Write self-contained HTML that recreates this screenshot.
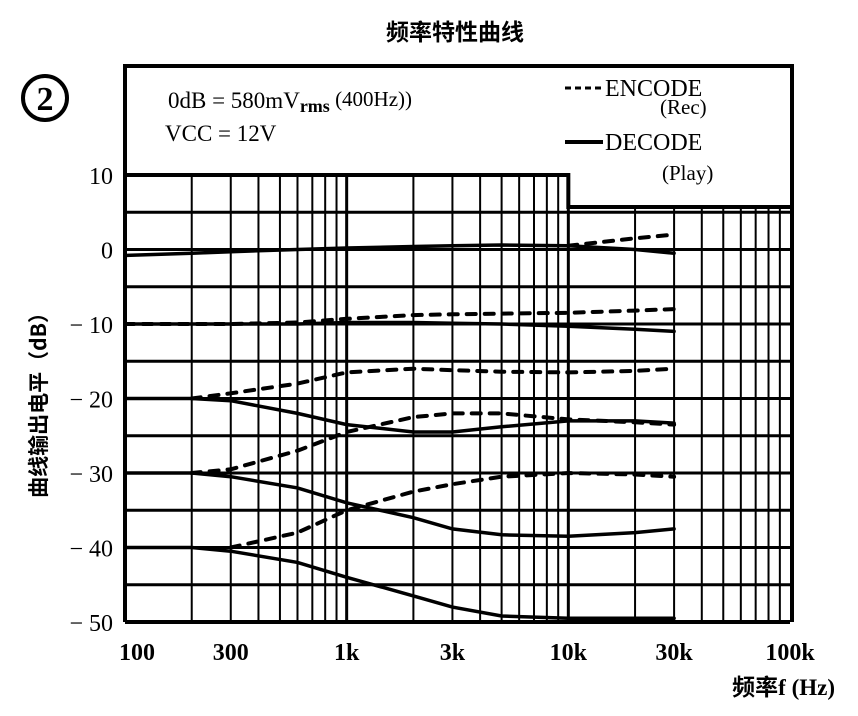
<!DOCTYPE html>
<html><head><meta charset="utf-8"><style>
html,body{margin:0;padding:0;background:#fff}
svg{display:block}
text{font-family:"Liberation Serif","Noto Serif CJK SC",serif;fill:#000}
.cjk{font-family:"Noto Sans CJK SC","WenQuanYi Zen Hei",sans-serif;font-weight:bold}
</style></head><body>
<svg id="chart" width="858" height="716" viewBox="0 0 858 716" xmlns="http://www.w3.org/2000/svg">
<text class="cjk" x="455" y="40" font-size="23" text-anchor="middle">频率特性曲线</text>
<g>
<circle cx="45" cy="98" r="22" fill="none" stroke="#000" stroke-width="4"/>
<text x="45" y="110" font-size="34" font-weight="bold" text-anchor="middle" font-family="Liberation Sans">2</text>
</g>
<g id="grid"></g>
<g id="frame"></g>
<g id="series"></g>
<g id="yticks"></g>
<g id="xticks"></g>
<text x="168" y="108" font-size="23">0dB = 580mV<tspan font-size="18" font-weight="bold" dy="4">rms</tspan><tspan dy="-6" font-size="21"> (400Hz))</tspan></text>
<text x="165" y="141" font-size="23">VCC = 12V</text>
<g>
<line x1="565" y1="88" x2="603" y2="88" stroke="#000" stroke-width="3" stroke-dasharray="6,4"/>
<text x="605" y="96" font-size="24">ENCODE</text>
<text x="660" y="114" font-size="21">(Rec)</text>
</g>
<g>
<line x1="565" y1="142" x2="603" y2="142" stroke="#000" stroke-width="4"/>
<text x="605" y="150" font-size="24">DECODE</text>
<text x="662" y="180" font-size="21">(Play)</text>
</g>
<text class="cjk" transform="translate(46,400) rotate(-90)" font-size="21" text-anchor="middle">曲线输出电平（dB）</text>
<text x="835" y="695" font-size="23" text-anchor="end"><tspan class="cjk">频率</tspan><tspan font-weight="bold">f (Hz)</tspan></text>
</svg>
<script>
const xTickValues=[100,300,1000,3000,10000,30000,100000];
const xTickLabels=["100","300","1k","3k","10k","30k","100k"];
const yTickValues=[10,0,-10,-20,-30,-40,-50];
const yTickLabels=["10","0","\u2212 10","\u2212 20","\u2212 30","\u2212 40","\u2212 50"];
const freqs=[100,200,300,600,1000,2000,3000,5000,10000,20000,30000];
const decode0=[-0.8,-0.5,-0.3,0,0.2,0.4,0.5,0.6,0.5,0,-0.5];
const encode0=[null,null,null,null,null,null,null,null,0.5,1.5,2];
const decode10=[-10,-10,-10,-10,-9.8,-9.8,-9.9,-10,-10.3,-10.7,-11];
const encode10=[-10,-10,-10,-9.8,-9.3,-8.8,-8.7,-8.6,-8.5,-8.2,-8];
const decode20=[-20,-20,-20.3,-22,-23.5,-24.5,-24.5,-23.8,-23,-23,-23.3];
const encode20=[null,-20,-19.3,-18,-16.5,-16,-16.2,-16.4,-16.5,-16.3,-16];
const decode30=[-30,-30,-30.5,-32,-34,-36,-37.5,-38.3,-38.5,-38,-37.5];
const encode30=[null,-30,-29.5,-27,-24.5,-22.5,-22,-22,-22.8,-23.2,-23.5];
const decode40=[-40,-40,-40.5,-42,-44,-46.5,-48,-49.2,-49.5,-49.5,-49.5];
const encode40=[null,null,-40,-38,-35,-32.5,-31.5,-30.5,-30,-30.2,-30.5];
const NS="http://www.w3.org/2000/svg";
const X0=125,X1=790,Y0=175,Y1=622;
function xs(f){return X0+(Math.log10(f)-2)/3*(X1-X0);}
function ys(d){return Y0+(10-d)/60*(Y1-Y0);}
function mk(tag,attrs,parent){const e=document.createElementNS(NS,tag);for(const k in attrs)e.setAttribute(k,attrs[k]);parent.appendChild(e);return e;}
const grid=document.getElementById('grid');
for(let dec=100;dec<100000;dec*=10){for(let m=1;m<10;m++){const f=dec*m;const x=xs(f);const top=f<10000?Y0:207;
const l=mk('line',{x1:x,y1:top,x2:x,y2:Y1,stroke:'#000','stroke-width':m===1?3:2},grid);

}}
for(let d=10;d>=-50;d-=5){const y=ys(d);const x2=(y<207)?xs(10000):X1;
const l=mk('line',{x1:X0,y1:y,x2:x2,y2:y,stroke:'#000','stroke-width':3},grid);

}
const frame=document.getElementById('frame');
const fr=mk('path',{d:`M${X0} ${Y1} L${X0} 66 L${X1+2} 66 L${X1+2} ${Y1} M${X0} ${Y0} L${xs(10000)} ${Y0} L${xs(10000)} 207 L${X1+2} 207 M${X0} ${Y1} L${X1} ${Y1}`,fill:'none',stroke:'#000','stroke-width':4},frame);


const ser=document.getElementById('series');
function draw(vals,dashed,name){let d='';let started=false;vals.forEach((v,i)=>{if(v===null)return;d+=(started?'L':'M')+xs(freqs[i]).toFixed(1)+' '+ys(v).toFixed(1)+' ';started=true;});
const p=mk('path',{d:d,fill:'none',stroke:'#000','stroke-width':dashed?4:3.5,'stroke-dasharray':dashed?'9,9':'none','stroke-linecap':'round'},ser);

}
draw(decode0,false,'decode-0db');draw(encode0,true,'encode-0db');
draw(decode10,false,'decode-minus10db');draw(encode10,true,'encode-minus10db');
draw(decode20,false,'decode-minus20db');draw(encode20,true,'encode-minus20db');
draw(decode30,false,'decode-minus30db');draw(encode30,true,'encode-minus30db');
draw(decode40,false,'decode-minus40db');draw(encode40,true,'encode-minus40db');
const yt=document.getElementById('yticks');
yTickValues.forEach((v,i)=>{const t=mk('text',{x:113,y:ys(v)+9,'font-size':24,'text-anchor':'end'},yt);t.textContent=yTickLabels[i];

});
const xt=document.getElementById('xticks');
xTickValues.forEach((v,i)=>{const t=mk('text',{x:xs(v)+(i===0?12:0),y:660,'font-size':24,'font-weight':'bold','text-anchor':'middle'},xt);t.textContent=xTickLabels[i];

});
</script>
</body></html>
